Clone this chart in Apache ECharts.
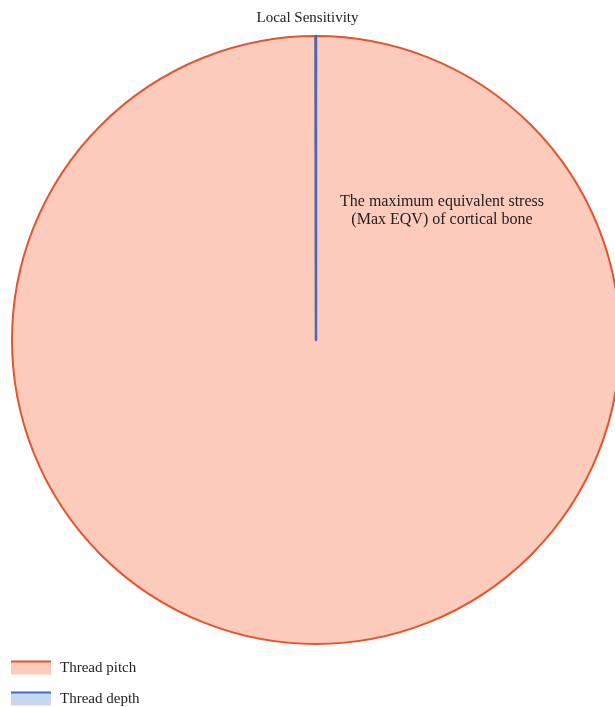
<!DOCTYPE html>
<html><head><meta charset="utf-8">
<script src="https://cdn.jsdelivr.net/npm/echarts@6/dist/echarts.min.js"></script>
<style>html,body{margin:0;padding:0;background:#fff}#c{width:615px;height:707px}</style>
</head><body><div id="c"></div>
<script>
const titleText = 'Local Sensitivity';
const categories = ['Thread pitch', 'Thread depth'];
const values = [1.0, 0.0002];
const annotation = 'The maximum equivalent stress\n(Max EQV) of cortical bone';
const fills = ['#FCCBBC', '#C6D9F1'];
const borders = ['#E2552F', '#4469BE'];

const chart = echarts.init(document.getElementById('c'), null, {renderer: 'canvas'});
const font = '"Liberation Serif", "DejaVu Serif", serif';
chart.setOption({
  animation: false,
  title: {text: titleText, left: 'center', top: 6,
    textStyle: {fontFamily: font, fontSize: 15, fontWeight: 'normal', color: '#222'}},
  legend: {
    orient: 'vertical', left: 11, bottom: 0, padding: 0, itemWidth: 40, itemHeight: 12, itemGap: 16,
    icon: 'rect',
    textStyle: {fontFamily: font, fontSize: 15, color: '#222', padding: [0, 0, 0, 4]},
    data: categories.map((c, i) => ({name: c, itemStyle: {color: fills[i], borderWidth: 0,
      shadowColor: borders[i], shadowOffsetY: -2, shadowBlur: 0}}))
  },
  graphic: [{type: 'text', x: 442, y: 193, z: 100,
    style: {text: annotation, font: '16px ' + font, fill: '#222', align: 'center', verticalAlign: 'top', lineHeight: 18}}],
  series: [{
    type: 'pie', center: [316, 340], radius: [0, 304], startAngle: 90, clockwise: true,
    label: {show: false}, labelLine: {show: false}, silent: true,
    data: categories.map((c, i) => ({name: c, value: values[i],
      itemStyle: {color: fills[i], borderColor: borders[i], borderWidth: i === 1 ? 2.5 : 2}}))
  }]
});
</script></body></html>
